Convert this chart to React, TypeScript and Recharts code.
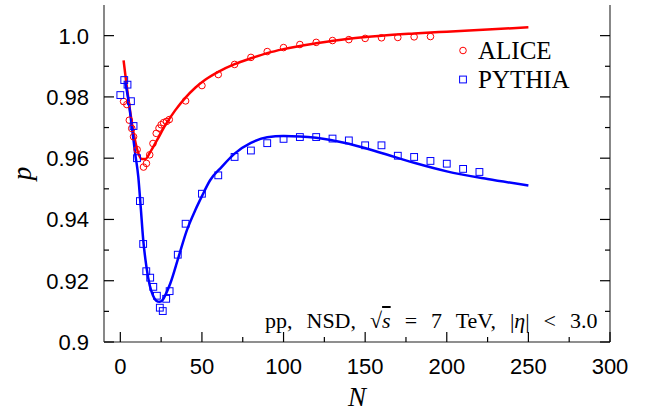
import React from "react";
import { ComposedChart, Line, Scatter, XAxis, YAxis, Legend, Label } from "recharts";

// ALICE measured points
const aliceN = [2, 4, 5.5, 7, 8.1, 10.3, 14.2, 16, 18, 20, 22, 23.7, 25, 26.5, 28.3, 30, 40, 50, 60, 70, 80, 90, 100, 110, 120, 130, 140, 150, 160, 170, 180, 190];
const aliceP = [0.9785, 0.9775, 0.9724, 0.9697, 0.967, 0.9628, 0.9571, 0.9583, 0.9611, 0.9648, 0.9681, 0.9698, 0.9709, 0.9716, 0.972, 0.9726, 0.9787, 0.9837, 0.9873, 0.9906, 0.9929, 0.9948, 0.9961, 0.9971, 0.9978, 0.9984, 0.9987, 0.9991, 0.9993, 0.9994, 0.9996, 0.9997];

// PYTHIA points
const pythiaN = [0, 2.4, 4.4, 6.5, 8.1, 10.2, 12, 14, 15.9, 18.3, 20.2, 22.4, 24.2, 26, 28.1, 30.2, 35.2, 40, 50, 60, 70, 80, 90, 100, 110, 120, 130, 140, 150, 160, 170, 180, 190, 200, 210, 220];
const pythiaP = [0.9806, 0.9855, 0.984, 0.9786, 0.9705, 0.96, 0.946, 0.932, 0.9231, 0.921, 0.918, 0.9151, 0.9112, 0.9101, 0.9141, 0.9166, 0.9285, 0.9386, 0.9484, 0.9544, 0.9604, 0.9625, 0.9649, 0.9663, 0.9669, 0.9669, 0.9664, 0.9658, 0.9642, 0.9642, 0.9608, 0.9604, 0.9591, 0.9582, 0.9565, 0.9555];

// fitted curves
const aliceFitN = [2, 5.1, 8.2, 10.8, 13.2, 15.3, 18.3, 22.4, 27.5, 33.6, 39.8, 45.9, 52, 60, 70, 80, 90, 100, 120, 140, 160, 180, 200, 225, 250];
const aliceFitP = [0.9919, 0.9788, 0.968, 0.962, 0.9597, 0.9597, 0.962, 0.9658, 0.9707, 0.9756, 0.9797, 0.983, 0.9856, 0.9882, 0.9907, 0.9926, 0.9943, 0.9956, 0.9975, 0.999, 1.0, 1.0007, 1.0013, 1.002, 1.0027];

const pythiaFitN = [3, 5, 7.1, 9.1, 11, 12.5, 14, 16, 18, 20, 22, 24, 26, 28, 30.6, 35.7, 40.8, 45.9, 50, 55, 62, 70, 80, 90, 100, 110, 120, 140, 160, 180, 200, 225, 250];
const pythiaFitP = [0.9848, 0.9788, 0.9701, 0.9615, 0.954, 0.944, 0.9335, 0.9245, 0.9185, 0.9152, 0.9135, 0.9131, 0.9138, 0.9158, 0.9191, 0.9278, 0.9365, 0.943, 0.9476, 0.9528, 0.9571, 0.9615, 0.965, 0.9668, 0.9672, 0.9671, 0.9667, 0.9647, 0.9617, 0.9585, 0.9557, 0.9532, 0.9511];

const xTicks = [0, 25, 50, 75, 100, 125, 150, 175, 200, 225, 250, 275, 300];
const xMajor = [0, 50, 100, 150, 200, 250, 300];
const xLabels = ["0", "50", "100", "150", "200", "250", "300"];
const yTicks = [0.9, 0.91, 0.92, 0.93, 0.94, 0.95, 0.96, 0.97, 0.98, 0.99, 1.0];
const yMajor = [0.9, 0.92, 0.94, 0.96, 0.98, 1.0];
const yLabels = ["0.9", "0.92", "0.94", "0.96", "0.98", "1.0"];

const zip = (xs: number[], ys: number[]) => xs.map((N, i) => ({ N, p: ys[i] }));
const alice = zip(aliceN, aliceP);
const pythia = zip(pythiaN, pythiaP);
const aliceFit = zip(aliceFitN, aliceFitP);
const pythiaFit = zip(pythiaFitN, pythiaFitP);

const majorIdx = (list: number[], v: number) => list.findIndex((m) => Math.abs(m - v) < 1e-6);

const frame = { stroke: "#6a6a6a", strokeWidth: 1.6 };
const tickFont = { fontFamily: '"Liberation Sans", Arial, sans-serif', fontSize: 22, fill: "#000" };
const serif = '"Liberation Serif", "Times New Roman", serif';

const BottomTick = (props: any) => {
  const { x, y, payload } = props;
  const i = majorIdx(xMajor, payload.value);
  const len = i >= 0 ? 10 : 5;
  return (
    <g>
      <line x1={x} y1={y} x2={x} y2={y - len} stroke="#000" strokeWidth={1.2} />
      {i >= 0 && (
        <text x={x} y={y + 32} textAnchor="middle" {...tickFont}>
          {xLabels[i]}
        </text>
      )}
    </g>
  );
};

const TopTick = (props: any) => {
  const { x, y, payload } = props;
  const len = majorIdx(xMajor, payload.value) >= 0 ? 10 : 5;
  return <line x1={x} y1={y} x2={x} y2={y + len} stroke="#000" strokeWidth={1.2} />;
};

const LeftTick = (props: any) => {
  const { x, y, payload } = props;
  const i = majorIdx(yMajor, payload.value);
  const len = i >= 0 ? 10 : 5;
  return (
    <g>
      <line x1={x} y1={y} x2={x + len} y2={y} stroke="#000" strokeWidth={1.2} />
      {i >= 0 && (
        <text x={x - 15} y={y + 8} textAnchor="end" {...tickFont}>
          {yLabels[i]}
        </text>
      )}
    </g>
  );
};

const RightTick = (props: any) => {
  const { x, y, payload } = props;
  const len = majorIdx(yMajor, payload.value) >= 0 ? 10 : 5;
  return <line x1={x} y1={y} x2={x - len} y2={y} stroke="#000" strokeWidth={1.2} />;
};

const OpenCircle = (props: any) => (
  <circle cx={props.cx} cy={props.cy} r={3.3} fill="none" stroke="#ff0000" strokeWidth={1} />
);
const OpenSquare = (props: any) => (
  <rect x={props.cx - 3.4} y={props.cy - 3.4} width={6.8} height={6.8} fill="none" stroke="#0000ff" strokeWidth={1} />
);

const LegendBox = () => (
  <div style={{ fontFamily: serif, fontSize: 25, lineHeight: "29px", color: "#000" }}>
    <div style={{ display: "flex", alignItems: "center" }}>
      <svg width={15} height={29} style={{ marginRight: 8 }}>
        <circle cx={8} cy={14.5} r={3.3} fill="none" stroke="#ff0000" strokeWidth={1} />
      </svg>
      <span>ALICE</span>
    </div>
    <div style={{ display: "flex", alignItems: "center" }}>
      <svg width={15} height={29} style={{ marginRight: 8 }}>
        <rect x={4.6} y={11.1} width={6.8} height={6.8} fill="none" stroke="#0000ff" strokeWidth={1} />
      </svg>
      <span>PYTHIA</span>
    </div>
  </div>
);

export default function App() {
  return (
    <div style={{ position: "absolute", left: 0, top: 0, width: 649, height: 416, background: "#fff" }}>
      <ComposedChart width={649} height={416} margin={{ top: 5, right: 38, bottom: 0, left: 10 }}>
        <XAxis
          xAxisId="b"
          orientation="bottom"
          type="number"
          dataKey="N"
          domain={[-10, 300]}
          ticks={xTicks}
          interval={0}
          height={74}
          tickSize={0}
          tickMargin={0}
          tickLine={false}
          axisLine={frame}
          tick={<BottomTick />}
          allowDataOverflow
        >
          <Label
            content={(p: any) => (
              <text
                x={p.viewBox.x + p.viewBox.width / 2}
                y={p.viewBox.y + 64}
                textAnchor="middle"
                fontFamily={serif}
                fontStyle="italic"
                fontSize={27}
              >
                N
              </text>
            )}
          />
        </XAxis>
        <XAxis
          xAxisId="t"
          orientation="top"
          type="number"
          domain={[-10, 300]}
          ticks={xTicks}
          interval={0}
          height={0}
          tickSize={0}
          tickMargin={0}
          tickLine={false}
          axisLine={frame}
          tick={<TopTick />}
          allowDataOverflow
        />
        <YAxis
          yAxisId="l"
          orientation="left"
          type="number"
          dataKey="p"
          domain={[0.9, 1.01]}
          ticks={yTicks}
          interval={0}
          width={94}
          tickSize={0}
          tickMargin={0}
          tickLine={false}
          axisLine={frame}
          tick={<LeftTick />}
          allowDataOverflow
        >
          <Label
            content={(p: any) => {
              const cx = 22;
              const cy = p.viewBox.y + p.viewBox.height / 2;
              return (
                <text
                  x={cx}
                  y={cy}
                  transform={`rotate(-90 ${cx} ${cy})`}
                  textAnchor="middle"
                  dominantBaseline="central"
                  fontFamily={serif}
                  fontStyle="italic"
                  fontSize={27}
                >
                  p
                </text>
              );
            }}
          />
        </YAxis>
        <YAxis
          yAxisId="r"
          orientation="right"
          type="number"
          domain={[0.9, 1.01]}
          ticks={yTicks}
          interval={0}
          width={1}
          tickSize={0}
          tickMargin={0}
          tickLine={false}
          axisLine={frame}
          tick={<RightTick />}
          allowDataOverflow
        />
        <Legend
          layout="vertical"
          align="center"
          verticalAlign="middle"
          content={<LegendBox />}
          wrapperStyle={{ left: 455, top: 35.5, width: "auto" }}
        />
        <Line
          xAxisId="b"
          yAxisId="l"
          data={aliceFit}
          dataKey="p"
          type="monotone"
          stroke="#ff0000"
          strokeWidth={2.5}
          dot={false}
          legendType="none"
          isAnimationActive={false}
        />
        <Line
          xAxisId="b"
          yAxisId="l"
          data={pythiaFit}
          dataKey="p"
          type="monotone"
          stroke="#0000ff"
          strokeWidth={2.5}
          dot={false}
          legendType="none"
          isAnimationActive={false}
        />
        <Scatter xAxisId="b" yAxisId="l" name="ALICE" data={alice} dataKey="p" shape={<OpenCircle />} isAnimationActive={false} />
        <Scatter xAxisId="b" yAxisId="l" name="PYTHIA" data={pythia} dataKey="p" shape={<OpenSquare />} isAnimationActive={false} />
      </ComposedChart>
      <div
        style={{
          position: "absolute",
          left: 265,
          top: 308.5,
          fontFamily: serif,
          fontSize: 22,
          wordSpacing: 8.5,
          whiteSpace: "nowrap",
          color: "#000",
          lineHeight: "24px",
        }}
      >
        pp, NSD, √<span style={{ fontStyle: "italic", textDecoration: "overline" }}>s</span> = 7 TeV,{" "}
        |<span style={{ fontStyle: "italic" }}>η</span>| &lt; 3.0
      </div>
    </div>
  );
}
